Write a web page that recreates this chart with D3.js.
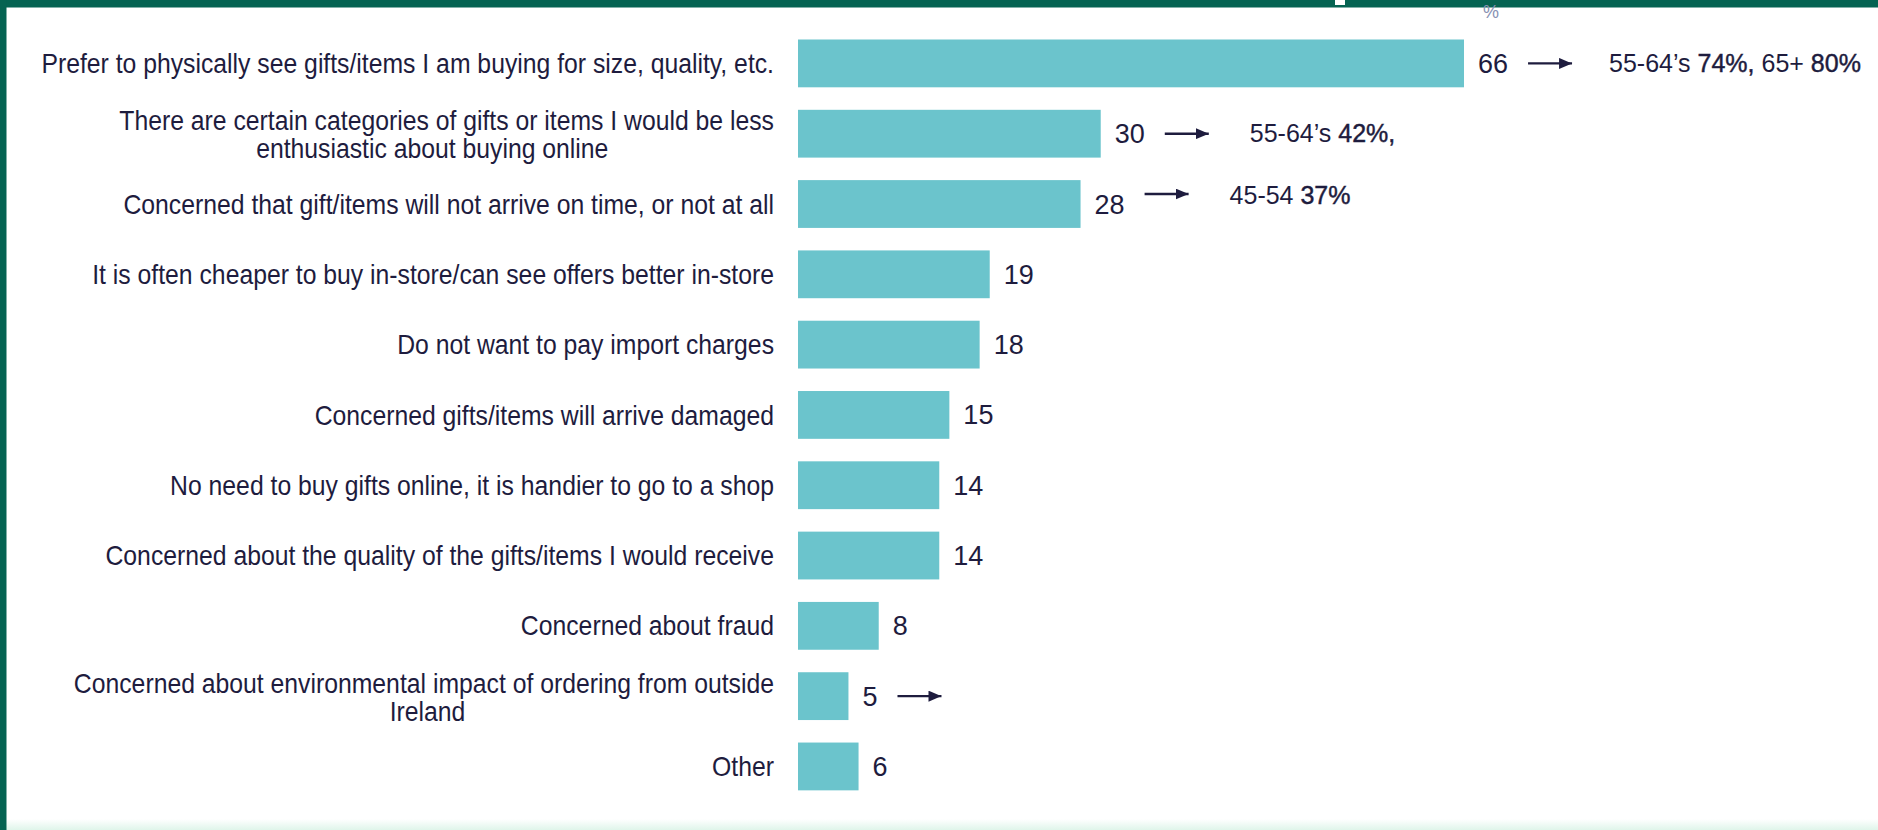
<!DOCTYPE html>
<html>
<head>
<meta charset="utf-8">
<script src="https://cdn.jsdelivr.net/npm/d3@7"></script>
<style>
html, body { margin: 0; padding: 0; background: #fff; }
svg { display: block; }
</style>
</head>
<body>
<svg id="chart" width="1878" height="830"></svg>
<script>
// reasons for not buying online - % of respondents
var categories = [
    ["Prefer to physically see gifts/items I am buying for size, quality, etc."],
    ["There are certain categories of gifts or items I would be less", "enthusiastic about buying online"],
    ["Concerned that gift/items will not arrive on time, or not at all"],
    ["It is often cheaper to buy in-store/can see offers better in-store"],
    ["Do not want to pay import charges"],
    ["Concerned gifts/items will arrive damaged"],
    ["No need to buy gifts online, it is handier to go to a shop"],
    ["Concerned about the quality of the gifts/items I would receive"],
    ["Concerned about fraud"],
    ["Concerned about environmental impact of ordering from outside", "Ireland"],
    ["Other"]
];
var values = [66, 30, 28, 19, 18, 15, 14, 14, 8, 5, 6];

// rows that get an arrow, and the age-group note after it (bold parts flagged)
var arrowRows = [0, 1, 2, 9];
var noteRows = [0, 1, 2];
var noteParts = [
    [["55-64\u2019s ", 0], ["74%, ", 1], ["65+ ", 0], ["80%", 1]],
    [["55-64\u2019s ", 0], ["42%,", 1]],
    [["45-54 ", 0], ["37%", 1]]
];

var W = 1878, H = 830;
var green = "#056352";
var barCol = "#6bc4cc";
var ink = "#1e1c3e";

var svg = d3.select("#chart");
var defs = svg.append("defs");

// frame
var grad = defs.append("linearGradient")
    .attr("id", "mint").attr("x1", 0).attr("y1", 0).attr("x2", 0).attr("y2", 1);
grad.append("stop").attr("offset", "0%").attr("stop-color", "#ffffff");
grad.append("stop").attr("offset", "100%").attr("stop-color", "#dff5ea");

svg.append("rect").attr("x", 0).attr("y", 819).attr("width", W).attr("height", 11)
    .style("fill", "url(#mint)");
svg.append("rect").attr("x", 0).attr("y", 0).attr("width", W).attr("height", 7.5)
    .style("fill", green);
svg.append("rect").attr("x", 0).attr("y", 0).attr("width", 6.5).attr("height", H)
    .style("fill", green);
svg.append("rect").attr("x", 1335).attr("y", 0).attr("width", 10).attr("height", 5)
    .style("fill", "#fff");

var y = d3.scaleBand()
    .domain(d3.range(values.length))
    .range([28.25, 801.6])
    .paddingInner(0.32)
    .paddingOuter(0.16);

var x = d3.scaleLinear()
    .domain([0, 66])
    .range([798, 1464]);

var labelX = 774;
var squeeze = 0.9;

svg.append("text")
    .attr("x", 1491)
    .attr("y", 12)
    .attr("dy", "0.35em")
    .attr("text-anchor", "middle")
    .attr("font-family", "Liberation Sans, Arial, sans-serif")
    .attr("font-size", "18px")
    .attr("fill", "#8791b3")
    .text("%");

// bars
svg.selectAll("rect.bar")
    .data(values)
    .enter()
    .append("rect")
    .attr("class", "bar")
    .attr("x", x(0))
    .attr("y", function(d, i) { return y(i); })
    .attr("width", function(d) { return x(d) - x(0); })
    .attr("height", y.bandwidth())
    .style("fill", barCol);

// category labels (slightly condensed like the original narrow face)
var labels = svg.selectAll("g.lab")
    .data(categories)
    .enter()
    .append("g")
    .attr("class", "lab")
    .attr("transform", function(d, i) {
        return "translate(" + labelX + "," + (y(i) + y.bandwidth() / 2) + ") scale(" + squeeze + ",1)";
    })
    .attr("font-family", "Liberation Sans, Arial, sans-serif")
    .attr("font-size", "27.5px")
    .attr("fill", ink);

labels.each(function(lines, i) {
    var g = d3.select(this);
    if (lines.length === 1) {
        g.append("text")
            .attr("x", 0)
            .attr("y", 0)
            .attr("dy", "0.35em")
            .attr("text-anchor", "end")
            .text(lines[0]);
    } else {
        var t1 = g.append("text")
            .attr("x", 0)
            .attr("y", -13)
            .attr("dy", "0.35em")
            .attr("text-anchor", "end")
            .text(lines[0]);
        var w1 = t1.node().getComputedTextLength();
        g.append("text")
            .attr("x", -w1 / 2 - (i === 1 ? 16 : -4))
            .attr("y", 15)
            .attr("dy", "0.35em")
            .attr("text-anchor", "middle")
            .text(lines[1]);
    }
});

// value labels
var valueEnds = [];
svg.selectAll("text.val")
    .data(values)
    .enter()
    .append("text")
    .attr("class", "val")
    .attr("x", function(d) { return x(d) + 14; })
    .attr("y", function(d, i) { return y(i) + y.bandwidth() / 2 + (i === 2 ? 1 : 0); })
    .attr("dy", "0.35em")
    .attr("font-family", "Liberation Sans, Arial, sans-serif")
    .attr("font-size", "27px")
    .attr("fill", ink)
    .text(function(d) { return d; })
    .each(function(d, i) {
        valueEnds[i] = x(d) + 14 + this.getComputedTextLength();
    });

// arrows
defs.append("marker")
    .attr("id", "head")
    .attr("viewBox", "0 0 13 11")
    .attr("refX", 13).attr("refY", 5.5)
    .attr("markerWidth", 13).attr("markerHeight", 11)
    .attr("markerUnits", "userSpaceOnUse")
    .attr("orient", "auto")
    .append("path")
    .attr("d", "M0,0 L13,5.5 L0,11 Z")
    .style("fill", ink);

var lift = function(i) { return i === 2 ? -10 : 0; };
var arrowEnd = [];
arrowRows.forEach(function(i) {
    var x0 = valueEnds[i] + 20;
    var cy = y(i) + y.bandwidth() / 2 + lift(i);
    arrowEnd[i] = x0 + 44;
    svg.append("line")
        .attr("x1", x0).attr("y1", cy)
        .attr("x2", x0 + 44).attr("y2", cy)
        .attr("stroke", ink)
        .attr("stroke-width", 2.4)
        .attr("marker-end", "url(#head)");
});

// age-group notes
noteRows.forEach(function(i, k) {
    var cy = y(i) + y.bandwidth() / 2 + lift(i) + (i === 2 ? 1 : 0);
    var t = svg.append("text")
        .attr("x", arrowEnd[i] + (i === 0 ? 37 : 41))
        .attr("y", cy)
        .attr("dy", "0.35em")
        .attr("font-family", "Liberation Sans, Arial, sans-serif")
        .attr("font-size", "25px")
        .attr("fill", ink);
    noteParts[k].forEach(function(p) {
        t.append("tspan")
            .attr("stroke", p[1] ? ink : "none")
            .attr("stroke-width", p[1] ? 0.45 : 0)
            .text(p[0]);
    });
});
</script>
</body>
</html>
